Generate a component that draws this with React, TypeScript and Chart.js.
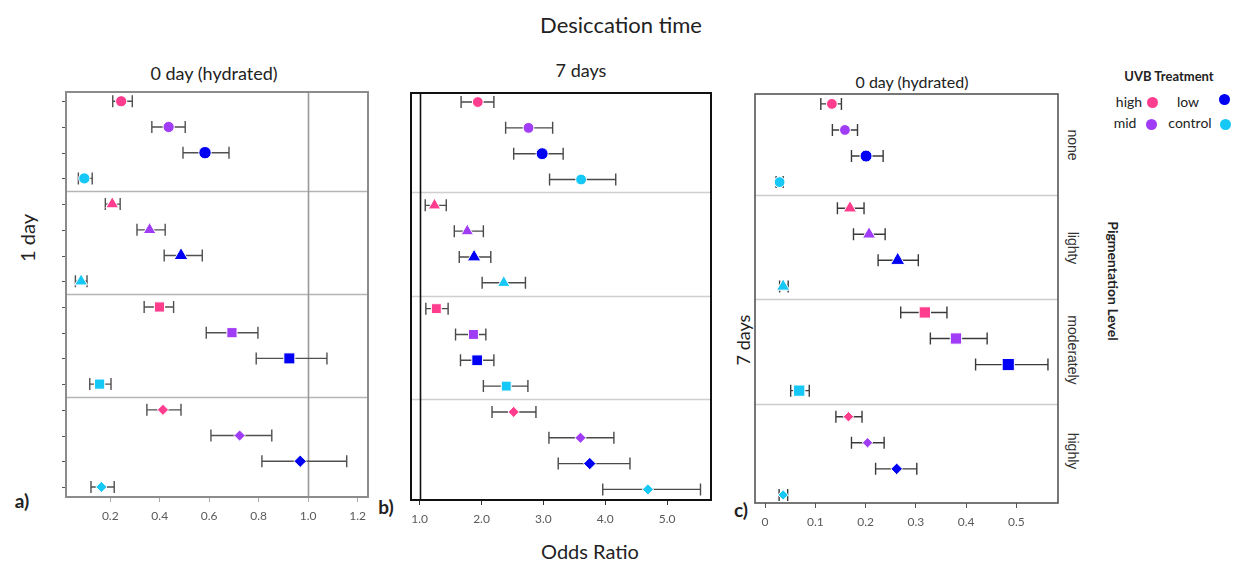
import React, { useEffect, useRef } from "react";
import { Chart, registerables } from "chart.js";
Chart.register(...registerables);

// ---------- data ----------
const PIGMENTATION = ["none", "lighty", "moderately", "highly"];
const TREATMENTS = ["high", "mid", "low", "control"];
const TREATMENT_COLORS = ["#FF3D8F", "#A03CF5", "#0000F5", "#16C8F5"];
const MARKERS = ["circle", "triangle", "rect", "rectRot"];

// panel a: 1 day vs 0 day (hydrated); rows = pigmentation x treatment
const A_OR = [0.244, 0.436, 0.583, 0.095, 0.208, 0.359, 0.486, 0.082, 0.399, 0.692, 0.924, 0.157, 0.413, 0.723, 0.968, 0.164];
const A_LO = [0.21, 0.368, 0.494, 0.071, 0.18, 0.308, 0.418, 0.059, 0.337, 0.588, 0.79, 0.117, 0.348, 0.607, 0.813, 0.122];
const A_HI = [0.289, 0.503, 0.68, 0.127, 0.24, 0.422, 0.572, 0.106, 0.456, 0.797, 1.076, 0.203, 0.486, 0.853, 1.156, 0.216];

// panel b: 1 day vs 7 days
const B_OR = [1.94, 2.76, 2.98, 3.61, 1.24, 1.77, 1.88, 2.36, 1.27, 1.87, 1.93, 2.4, 2.52, 3.6, 3.75, 4.69];
const B_LO = [1.67, 2.39, 2.52, 3.1, 1.09, 1.56, 1.64, 2.01, 1.1, 1.58, 1.66, 2.03, 2.17, 3.09, 3.24, 3.96];
const B_HI = [2.2, 3.15, 3.32, 4.17, 1.43, 2.03, 2.15, 2.71, 1.46, 2.07, 2.2, 2.75, 2.88, 4.14, 4.4, 5.54];

// panel c: 7 days vs 0 day (hydrated)
const C_OR = [0.133, 0.159, 0.201, 0.029, 0.169, 0.207, 0.264, 0.036, 0.318, 0.38, 0.484, 0.068, 0.166, 0.204, 0.262, 0.036];
const C_LO = [0.111, 0.134, 0.172, 0.022, 0.144, 0.176, 0.225, 0.029, 0.27, 0.329, 0.419, 0.051, 0.141, 0.172, 0.22, 0.028];
const C_HI = [0.152, 0.184, 0.235, 0.036, 0.197, 0.239, 0.305, 0.046, 0.362, 0.442, 0.563, 0.088, 0.193, 0.237, 0.302, 0.045];

const A_TICKS = [0.2, 0.4, 0.6, 0.8, 1.0, 1.2];
const A_TICK_LABELS = ["0.2", "0.4", "0.6", "0.8", "1.0", "1.2"];
const B_TICKS = [1, 2, 3, 4, 5];
const B_TICK_LABELS = ["1.0", "2.0", "3.0", "4.0", "5.0"];
const C_TICKS = [0, 0.1, 0.2, 0.3, 0.4, 0.5];
const C_TICK_LABELS = ["0", "0.1", "0.2", "0.3", "0.4", "0.5"];

// ---------- panel ----------
type PanelProps = {
  or: number[]; lo: number[]; hi: number[];
  ticks: number[]; tickLabels: string[];
  xMin: number; xMax: number; yMin: number; yMax: number;
  plot: { l: number; r: number; t: number; b: number };
  refX?: number; refColor?: string;
  borderColor: string; borderWidth: number; sepColor: string;
  leftTicks: boolean; radii: number[]; tickColor: string; barColor: string;
};

function Panel(p: PanelProps) {
  const ref = useRef<HTMLCanvasElement>(null);
  const padL = 30, padT = 10, padR = 24, axisH = 34;
  const w = p.plot.r - p.plot.l + padL + padR;
  const h = p.plot.b - p.plot.t + padT + axisH;
  useEffect(() => {
    const datasets = TREATMENTS.map((name, t) => ({
      label: name,
      data: PIGMENTATION.map((_, g) => ({ x: p.or[g * 4 + t], y: g * 4 + t })),
      pointStyle: PIGMENTATION.map((_, g) => MARKERS[g]),
      pointRadius: PIGMENTATION.map((_, g) => p.radii[g] + (t === 2 ? 0.6 : 0)),
      pointBackgroundColor: TREATMENT_COLORS[t],
      backgroundColor: TREATMENT_COLORS[t],
      pointBorderColor: "#ffffff",
      pointBorderWidth: 1,
      showLine: false,
    }));
    const decor = {
      id: "decor",
      beforeDatasetsDraw(chart: any) {
        const { ctx, chartArea: ca, scales } = chart;
        const x = scales.x, y = scales.y;
        ctx.save();
        ctx.strokeStyle = p.sepColor;
        ctx.lineWidth = 1.5;
        [3.5, 7.5, 11.5].forEach((v) => {
          const py = Math.round(y.getPixelForValue(v)) + 0.5;
          ctx.beginPath();
          ctx.moveTo(ca.left, py);
          ctx.lineTo(ca.right, py);
          ctx.stroke();
        });
        if (p.refX !== undefined) {
          const px = Math.round(x.getPixelForValue(p.refX)) + 0.5;
          ctx.strokeStyle = p.refColor || "#999";
          ctx.lineWidth = 1.6;
          ctx.beginPath();
          ctx.moveTo(px, ca.top);
          ctx.lineTo(px, ca.bottom);
          ctx.stroke();
        }
        ctx.strokeStyle = p.barColor;
        ctx.lineWidth = 1.4;
        p.or.forEach((_, i) => {
          const py = y.getPixelForValue(i);
          const x1 = x.getPixelForValue(p.lo[i]);
          const x2 = x.getPixelForValue(p.hi[i]);
          ctx.beginPath();
          ctx.moveTo(x1, py); ctx.lineTo(x2, py);
          ctx.moveTo(x1, py - 6); ctx.lineTo(x1, py + 6);
          ctx.moveTo(x2, py - 6); ctx.lineTo(x2, py + 6);
          ctx.stroke();
        });
        ctx.restore();
      },
      afterDraw(chart: any) {
        const { ctx, chartArea: ca, scales } = chart;
        ctx.save();
        ctx.strokeStyle = p.borderColor;
        ctx.lineWidth = p.borderWidth;
        ctx.strokeRect(ca.left, ca.top, ca.right - ca.left, ca.bottom - ca.top);
        if (p.leftTicks) {
          ctx.strokeStyle = "#555";
          ctx.lineWidth = 1;
          p.or.forEach((_, i) => {
            const py = Math.round(scales.y.getPixelForValue(i)) + 0.5;
            ctx.beginPath();
            ctx.moveTo(ca.left - 4, py);
            ctx.lineTo(ca.left - 1, py);
            ctx.stroke();
          });
        }
        ctx.restore();
      },
    };
    const chart = new Chart(ref.current as HTMLCanvasElement, {
      type: "scatter",
      data: { datasets: datasets as any },
      options: {
        animation: false,
        responsive: false,
        maintainAspectRatio: false,
        layout: { padding: { left: padL, top: padT, right: padR, bottom: 0 } },
        plugins: { legend: { display: false }, tooltip: { enabled: false } },
        scales: {
          x: {
            type: "linear",
            min: p.xMin,
            max: p.xMax,
            afterBuildTicks: (s: any) => { s.ticks = p.ticks.map((v) => ({ value: v })); },
            afterFit: (s: any) => { s.height = axisH; },
            ticks: {
              callback: (v: any) => p.tickLabels[p.ticks.indexOf(Number(v))] ?? "",
              color: "#5a5a5a",
              font: { family: "Lato", size: 12 },
              padding: 7,
              autoSkip: false,
              maxRotation: 0,
            },
            grid: { drawOnChartArea: false, drawTicks: true, tickLength: 5, color: p.tickColor, lineWidth: 1 },
            border: { display: false },
          },
          y: { type: "linear", display: false, reverse: true, min: p.yMin, max: p.yMax },
        },
      } as any,
      plugins: [decor],
    });
    return () => chart.destroy();
  }, []);
  return (
    <canvas
      ref={ref}
      width={w}
      height={h}
      style={{ position: "absolute", left: p.plot.l - padL, top: p.plot.t - padT, width: w, height: h }}
    />
  );
}

// ---------- text helper ----------
function Txt(props: { x: number; y: number; size: number; text: string; bold?: boolean; family?: string; rotate?: number; color?: string }) {
  return (
    <div
      style={{
        position: "absolute",
        left: props.x,
        top: props.y,
        transform: `translate(-50%, -50%) rotate(${props.rotate || 0}deg)`,
        fontSize: props.size,
        fontWeight: props.bold ? 700 : 400,
        fontFamily: props.family || "Lato, sans-serif",
        color: props.color || "#222",
        whiteSpace: "nowrap",
        lineHeight: 1,
      }}
    >
      {props.text}
    </div>
  );
}

function Dot(props: { x: number; y: number; color: string }) {
  return (
    <div
      style={{
        position: "absolute",
        left: props.x - 5.5,
        top: props.y - 5.5,
        width: 11,
        height: 11,
        borderRadius: "50%",
        background: props.color,
      }}
    />
  );
}

export default function App() {
  return (
    <div style={{ position: "absolute", left: 0, top: 0, width: 1239, height: 563, background: "#fff", overflow: "hidden" }}>
      <Txt x={621} y={25} size={22} text="Desiccation time" />
      <Txt x={214} y={73} size={18} text="0 day (hydrated)" />
      <Txt x={581} y={70} size={18} text="7 days" />
      <Txt x={912} y={82} size={16} text="0 day (hydrated)" />
      <Txt x={27} y={238} size={20} text="1 day" rotate={-90} />
      <Txt x={743} y={340} size={18} text="7 days" rotate={-90} />
      <Txt x={22} y={500} size={19} bold text="a)" />
      <Txt x={386} y={506} size={19} bold text="b)" />
      <Txt x={741} y={509} size={19} bold text="c)" />
      <Txt x={590} y={551} size={20} text="Odds Ratio" />

      <Txt x={1169} y={76} size={13} bold text="UVB Treatment" />
      <Txt x={1129} y={102} size={14} text="high" />
      <Dot x={1152} y={102} color={TREATMENT_COLORS[0]} />
      <Txt x={1188} y={102} size={14} text="low" />
      <Dot x={1224} y={99} color={TREATMENT_COLORS[2]} />
      <Txt x={1125} y={123} size={14} text="mid" />
      <Dot x={1151} y={124} color={TREATMENT_COLORS[1]} />
      <Txt x={1190} y={123} size={14} text="control" />
      <Dot x={1225} y={124} color={TREATMENT_COLORS[3]} />
      <Txt x={1113} y={281} size={14} bold rotate={90} text="Pigmentation Level" />

      {PIGMENTATION.map((name, g) => (
        <Txt key={name} x={1073} y={[145, 248, 350, 451][g]} size={14} rotate={90} family="'Liberation Sans', Arial, sans-serif" color="#333" text={name} />
      ))}

      <Panel
        or={A_OR} lo={A_LO} hi={A_HI}
        ticks={A_TICKS} tickLabels={A_TICK_LABELS}
        xMin={0.021} xMax={1.242} yMin={-0.36} yMax={15.39}
        plot={{ l: 66, r: 368, t: 92, b: 497 }}
        refX={1.0} refColor="#999999"
        borderColor="#8c8c8c" borderWidth={2} sepColor="#b5b5b5"
        leftTicks={true} radii={[5.6, 7.4, 7.2, 5.6]} tickColor="#aaaaaa" barColor="#505050"
      />
      <Panel
        or={B_OR} lo={B_LO} hi={B_HI}
        ticks={B_TICKS} tickLabels={B_TICK_LABELS}
        xMin={0.86} xMax={5.71} yMin={-0.35} yMax={15.41}
        plot={{ l: 411, r: 711, t: 93, b: 500 }}
        refX={1.0} refColor="#111111"
        borderColor="#111111" borderWidth={2} sepColor="#cfcfcf"
        leftTicks={false} radii={[5.4, 7.2, 7, 5.6]} tickColor="#333333" barColor="#4a4a4a"
      />
      <Panel
        or={C_OR} lo={C_LO} hi={C_HI}
        ticks={C_TICKS} tickLabels={C_TICK_LABELS}
        xMin={-0.02} xMax={0.583} yMin={-0.38} yMax={15.31}
        plot={{ l: 755, r: 1058, t: 94, b: 503 }}
        borderColor="#555555" borderWidth={1.6} sepColor="#cccccc"
        leftTicks={false} radii={[5.4, 7.6, 8, 5.2]} tickColor="#555555" barColor="#3a3a3a"
      />
    </div>
  );
}
